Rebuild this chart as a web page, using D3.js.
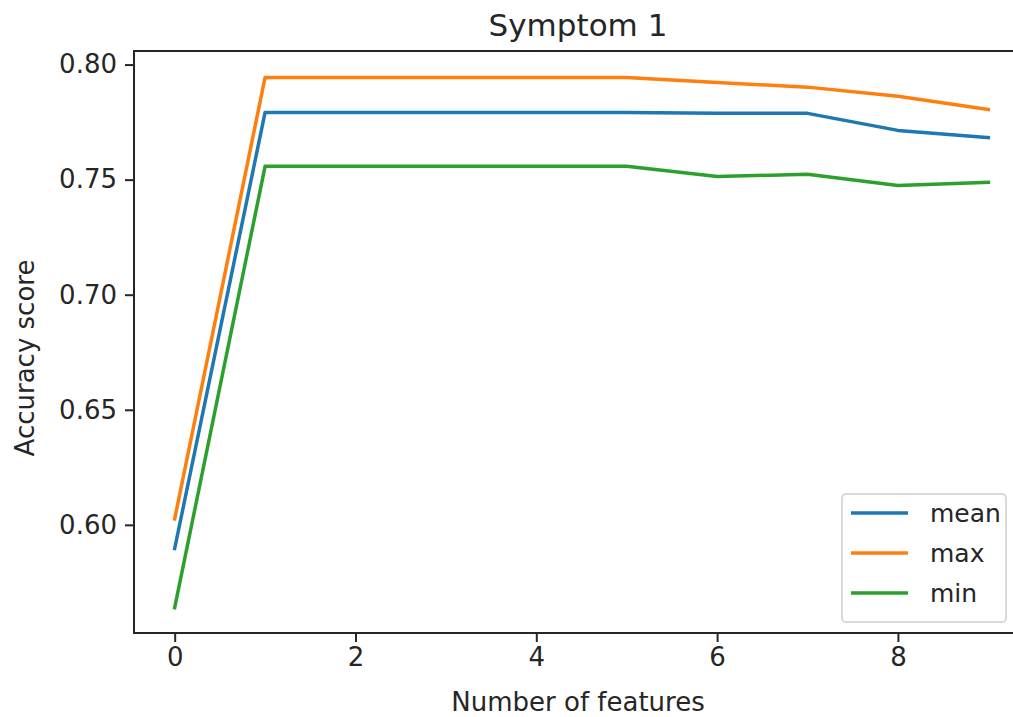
<!DOCTYPE html>
<html>
<head>
<meta charset="utf-8">
<script src="https://cdn.jsdelivr.net/npm/d3@7"></script>
<style>
  body { margin: 0; background: #fff; }
  text { font-family: "DejaVu Sans", sans-serif; fill: #262626; }
</style>
</head>
<body>
<svg id="chart" width="1013" height="717"></svg>
<script>
const features = [0, 1, 2, 3, 4, 5, 6, 7, 8, 9];
const meanScores = [0.5897, 0.7792, 0.7792, 0.7792, 0.7792, 0.7792, 0.7788, 0.7788, 0.7714, 0.7683];
const maxScores = [0.6026, 0.7944, 0.7944, 0.7944, 0.7944, 0.7944, 0.7922, 0.7902, 0.7862, 0.7805];
const minScores = [0.5640, 0.7558, 0.7558, 0.7558, 0.7558, 0.7558, 0.7514, 0.7523, 0.7475, 0.7488];
const xTicks = [0, 2, 4, 6, 8];
const yTicks = [0.60, 0.65, 0.70, 0.75, 0.80];

const series = [
  { name: "mean", values: meanScores, color: "#1f77b4" },
  { name: "max", values: maxScores, color: "#ff7f0e" },
  { name: "min", values: minScores, color: "#2ca02c" }
];

const svg = d3.select("#chart");

// plot frame runs past the right edge of the picture, as in the reference
const x = d3.scaleLinear().domain([-0.45, 9.45]).range([134, 1029]);
const y = d3.scaleLinear().domain([0.5530, 0.8059]).range([633, 51]);
const [plotLeft, plotRight] = x.range();
const [plotBottom, plotTop] = y.range();

const line = d3.line()
  .x((d, i) => x(features[i]))
  .y((d) => y(d));

series.forEach((s) => {
  svg.append("path")
    .datum(s.values)
    .attr("fill", "none")
    .attr("stroke", s.color)
    .attr("stroke-width", 3.5)
    .attr("stroke-linecap", "square")
    .attr("stroke-linejoin", "round")
    .attr("d", line);
});

// axes
const xAxis = svg.append("g")
  .attr("transform", `translate(0,${plotBottom})`)
  .call(d3.axisBottom(x).tickValues(xTicks).tickSize(9).tickPadding(6).tickFormat(d3.format("d")));
const yAxis = svg.append("g")
  .attr("transform", `translate(${plotLeft},0)`)
  .call(d3.axisLeft(y).tickValues(yTicks).tickSize(9).tickPadding(8).tickFormat(d3.format(".2f")));

[xAxis, yAxis].forEach((a) => {
  a.select(".domain").remove();
  a.selectAll(".tick line").attr("stroke", "#262626").attr("stroke-width", 2);
  a.selectAll(".tick text").style("font-size", "26px").attr("fill", "#262626");
});

svg.append("rect")
  .attr("x", plotLeft).attr("y", plotTop)
  .attr("width", plotRight - plotLeft)
  .attr("height", plotBottom - plotTop)
  .attr("fill", "none").attr("stroke", "#262626").attr("stroke-width", 2);

svg.append("text")
  .attr("x", 578).attr("y", 36)
  .attr("text-anchor", "middle").style("font-size", "31px")
  .text("Symptom 1");

svg.append("text")
  .attr("x", 578).attr("y", 711)
  .attr("text-anchor", "middle").style("font-size", "26px")
  .text("Number of features");

svg.append("text")
  .attr("transform", `translate(34,358) rotate(-90)`)
  .attr("text-anchor", "middle").style("font-size", "26px")
  .text("Accuracy score");

// legend
const legend = svg.append("g").attr("transform", "translate(842,494)");
legend.append("rect")
  .attr("width", 164).attr("height", 128).attr("rx", 4)
  .attr("fill", "#fff").attr("fill-opacity", 0.8)
  .attr("stroke", "#d9d9d9").attr("stroke-width", 2);
series.forEach((s, i) => {
  const g = legend.append("g").attr("transform", `translate(0,${19 + i * 40})`);
  g.append("line").attr("x1", 9).attr("x2", 66).attr("y1", 0).attr("y2", 0)
    .attr("stroke", s.color).attr("stroke-width", 3.5);
  g.append("text").attr("x", 88).attr("y", 9).style("font-size", "25px").text(s.name);
});
</script>
</body>
</html>
